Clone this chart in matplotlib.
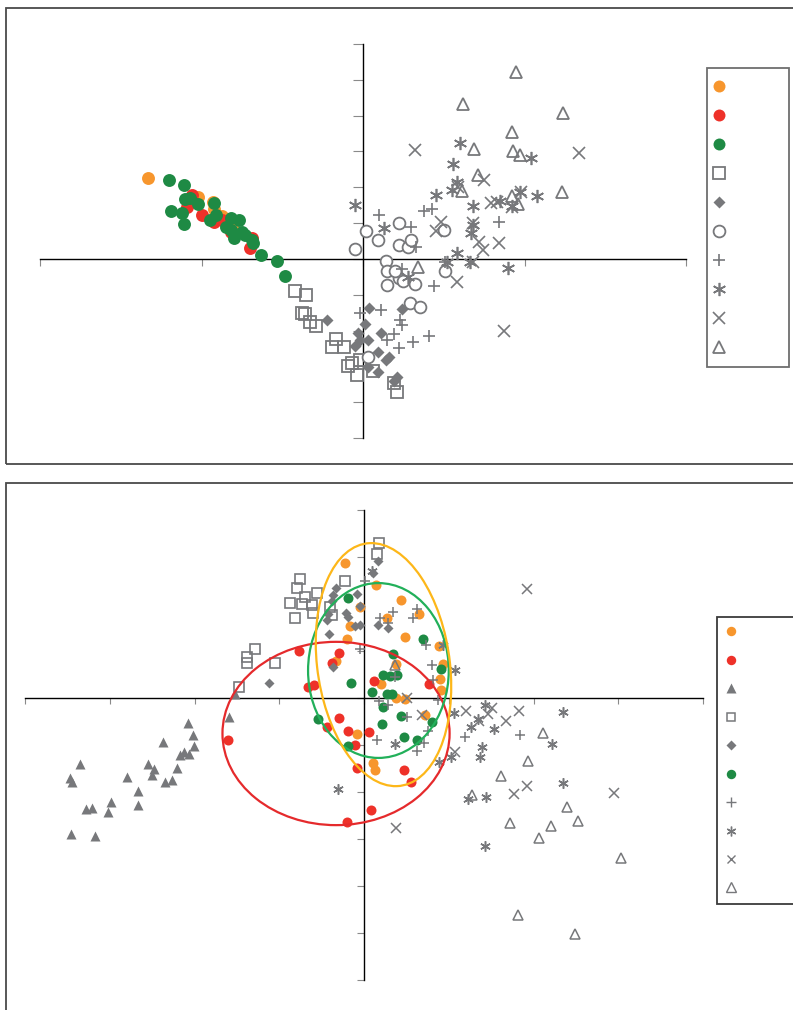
import matplotlib
matplotlib.use("Agg")
import matplotlib.pyplot as plt
from matplotlib.patches import Ellipse, Rectangle
from matplotlib.lines import Line2D

# ---------------- colours ----------------
ORANGE = "#F7962D"
RED = "#EE3129"
GREEN = "#1E8A44"
GRAY = "#77787B"

# ---------------- top panel data ----------------
top_orange_x = [-1.33, -1.02, -0.93, -0.92, -0.87, -0.81]
top_orange_y = [2.26, 1.73, 1.59, 1.40, 1.20, 0.87]
top_red_x = [-1.06, -1.09, -1.00, -0.92, -0.87, -0.70, -0.69, -0.82]
top_red_y = [1.79, 1.45, 1.23, 1.03, 1.09, 0.31, 0.59, 0.75]
top_green_x = [-1.20, -1.11, -1.10, -1.07, -1.02, -1.19, -1.12, -1.11, -0.92, -0.91, -0.95, -0.82,
               -0.77, -0.85, -0.82, -0.80, -0.75, -0.73, -0.69, -0.68, -0.63, -0.53, -0.48]
top_green_y = [2.21, 2.07, 1.68, 1.70, 1.54, 1.34, 1.28, 0.98, 1.56, 1.23, 1.09, 1.15,
               1.09, 0.89, 0.81, 0.59, 0.75, 0.67, 0.53, 0.45, 0.11, -0.06, -0.47]
top_square_x = [-0.42, -0.35, -0.38, -0.36, -0.33, -0.29, -0.17, -0.19, -0.12, -0.09, -0.04, -0.02,
                0.06, 0.19, 0.21, -0.07]
top_square_y = [-0.89, -1.01, -1.51, -1.54, -1.76, -1.87, -2.23, -2.46, -2.46, -2.99, -3.24, -2.82,
                -3.13, -3.46, -3.72, -2.91]
top_diamond_x = [-0.22, 0.04, 0.24, 0.01, -0.03, 0.11, 0.03, -0.05, 0.09, 0.14, 0.16, 0.03, 0.09,
                 0.19, 0.21, -0.02]
top_diamond_y = [-1.70, -1.37, -1.40, -1.82, -2.07, -2.07, -2.26, -2.43, -2.60, -2.82, -2.74, -3.02,
                 -3.16, -3.41, -3.30, -2.26]
top_circle_x = [-0.05, 0.02, 0.09, 0.22, 0.22, 0.28, 0.30, 0.14, 0.15, 0.22, 0.25, 0.15, 0.32, 0.29,
                0.35, 0.50, 0.51, 0.03, 0.20]
top_circle_y = [0.28, 0.78, 0.53, 1.01, 0.39, 0.34, 0.53, -0.06, -0.34, -0.53, -0.61, -0.73, -0.70,
                -1.23, -1.34, 0.81, -0.34, -2.74, -0.34]
top_plus_x = [0.10, 0.30, 0.33, 0.38, 0.43, 0.84, 0.24, 0.44, -0.02, 0.11, 0.23, 0.24, 0.19, 0.15,
              0.22, 0.31, 0.41, 0.51]
top_plus_y = [1.23, 0.89, 0.34, 1.34, 1.40, 1.03, -0.28, -0.75, -1.51, -1.42, -1.70, -1.84, -2.09,
              -2.26, -2.49, -2.32, -2.15, -0.08]
top_star_x = [-0.05, 0.13, 0.45, 0.56, 0.60, 0.58, 0.55, 0.68, 0.85, 0.92, 1.08, 1.04, 0.97, 0.68,
              0.67, 0.58, 0.52, 0.66, 0.90, 0.28]
top_star_y = [1.51, 0.87, 1.79, 2.65, 3.24, 2.15, 1.93, 1.48, 1.62, 1.48, 1.76, 2.82, 1.87, 0.95,
              0.73, 0.17, -0.08, -0.08, -0.25, -0.50]
top_x_x = [0.32, 0.75, 1.34, 0.79, 0.83, 0.98, 0.92, 0.45, 0.48, 0.68, 0.72, 0.74, 0.84, 0.58, 0.87,
           0.59, 0.68]
top_x_y = [3.04, 2.21, 2.96, 1.56, 1.59, 1.87, 1.45, 0.78, 1.03, 1.01, 0.47, 0.25, 0.45, -0.64, -2.01,
           2.01, -0.08]
top_tri_x = [0.95, 0.62, 1.24, 0.92, 0.69, 0.93, 0.97, 0.71, 0.61, 1.23, 0.92, 0.96, 0.34]
top_tri_y = [5.22, 4.33, 4.08, 3.55, 3.07, 3.02, 2.91, 2.35, 1.90, 1.87, 1.76, 1.54, -0.22]

top_xticks = [-2, -1, 0, 1, 2]
top_yticks = [-5, -4, -3, -2, -1, 0, 1, 2, 3, 4, 5, 6]

# ---------------- bottom panel data ----------------
bot_orange_x = [-0.22, 0.14, 0.44, -0.05, 0.27, 0.65, -0.17, 0.48, -0.20, 0.88, 0.93, 0.90, 0.91,
                -0.33, 0.38, 0.20, 0.38, 0.48, 0.72, -0.08, 0.11, 0.13]
bot_orange_y = [2.87, 2.40, 2.09, 1.94, 1.70, 1.79, 1.53, 1.30, 1.26, 1.11, 0.72, 0.40, 0.17,
                0.79, 0.72, 0.30, 0.00, -0.02, -0.36, -0.77, -1.38, -1.53]
bot_red_x = [-0.77, -0.30, -0.38, -0.66, -0.59, 0.12, 0.77, -0.30, -0.44, -0.19, -0.11, 0.06, -0.08,
             0.47, 0.55, 0.08, -0.20, -1.60]
bot_red_y = [1.00, 0.96, 0.74, 0.23, 0.28, 0.36, 0.30, -0.43, -0.62, -0.70, -1.00, -0.72, -1.49,
             -1.53, -1.79, -2.38, -2.64, -0.89]
bot_ftri_x = [-3.35, -3.47, -3.45, -3.46, -3.17, -3.28, -3.21, -3.02, -2.99, -2.80, -2.67, -2.67,
              -2.55, -2.48, -2.50, -2.37, -2.35, -2.27, -2.21, -2.17, -2.12, -2.06, -2.08, -2.02,
              -2.01, -1.59, -1.52]
bot_ftri_y = [-1.40, -1.70, -1.79, -2.89, -2.94, -2.36, -2.34, -2.43, -2.21, -1.68, -1.98, -2.28,
              -1.40, -1.51, -1.64, -0.94, -1.79, -1.74, -1.49, -1.21, -1.15, -1.19, -0.53, -0.79,
              -1.02, -0.40, 0.09]
bot_square_x = [0.18, 0.15, -0.76, -0.79, -0.87, -0.73, -0.61, -0.55, -0.70, -0.60, -0.81, -0.22,
                -0.40, -0.38, -1.29, -1.38, -1.38, -1.05, -1.47]
bot_square_y = [3.30, 3.06, 2.53, 2.34, 2.02, 2.00, 1.98, 2.23, 2.15, 1.81, 1.70, 2.49,
                1.94, 1.77, 1.04, 0.87, 0.74, 0.74, 0.23]
bot_diamond_x = [0.17, 0.11, -0.33, -0.37, -0.38, -0.08, -0.05, -0.21, -0.19, -0.42, -0.44, -0.11,
                 -0.05, -0.41, 0.17, 0.28, -0.37, -1.12]
bot_diamond_y = [2.91, 2.66, 2.34, 2.19, 2.06, 2.21, 1.96, 1.81, 1.72, 1.79, 1.66, 1.53,
                 1.55, 1.36, 1.55, 1.49, 0.66, 0.32]
bot_green_x = [-0.19, 0.70, 0.34, 0.91, -0.15, 0.22, 0.31, 0.39, 0.09, 0.27, 0.33, 0.22, 0.44, 0.80,
               0.21, 0.47, 0.63, -0.54, -0.19]
bot_green_y = [2.13, 1.26, 0.94, 0.62, 0.32, 0.49, 0.47, 0.49, 0.13, 0.09, 0.09, -0.19, -0.38, -0.51,
               -0.55, -0.83, -0.89, -0.45, -1.02]
bot_plus_x = [0.01, 0.34, 0.19, 0.28, 0.58, 0.63, 0.73, 0.80, 0.81, 0.37, -0.05, 0.18, 0.28, 0.51,
              0.15, 0.71, 0.76, 0.63, 0.87, 1.19, 1.84]
bot_plus_y = [2.49, 1.83, 1.70, 1.60, 1.70, 1.89, 1.13, 0.70, 0.38, 0.45, 1.04, -0.06, -0.15, -0.40,
              -0.89, -0.96, -0.70, -1.13, -0.04, -0.83, -0.79]
bot_star_x = [0.09, 0.93, 1.07, 0.37, -0.31, 1.06, 1.43, 1.35, 1.26, 1.53, 2.35, 2.22, 1.39, 1.37,
              1.03, 0.88, 2.35, 1.23, 1.44, 1.43]
bot_star_y = [2.70, 1.13, 0.60, -0.98, -1.94, -0.32, -0.15, -0.45, -0.62, -0.66, -0.30, -0.98, -1.04,
              -1.26, -1.26, -1.36, -1.81, -2.15, -2.11, -3.15]
bot_x_x = [1.92, 0.51, 0.68, 1.20, 1.51, 1.46, 1.36, 1.68, 1.83, 1.07, 1.92, 1.77, 2.95, 0.38]
bot_x_y = [2.32, 0.00, -0.36, -0.28, -0.21, -0.34, -0.49, -0.49, -0.28, -1.15, -1.87, -2.04, -2.02, -2.77]
bot_otri_x = [2.11, 1.94, 1.62, 1.27, 2.40, 2.53, 2.21, 1.72, 2.06, 3.03, 1.82, 2.49, 0.37]
bot_otri_y = [-0.74, -1.34, -1.66, -2.06, -2.32, -2.62, -2.72, -2.66, -2.98, -3.40, -4.62, -5.02, 0.70]

bot_xticks = [-4, -3, -2, -1, 0, 1, 2, 3, 4]
bot_yticks = [-6, -5, -4, -3, -2, -1, 0, 1, 2, 3, 4]

# ellipses: (center x, center y, width, height, angle, colour)
ell_red = (-0.33, -0.755, 2.68, 3.90, 0.0, "#E52A2C")
ell_green = (0.17, 0.585, 1.66, 3.72, 0.0, "#22B05A")
ell_orange = (0.23, 0.71, 1.57, 5.18, 3.5, "#FDB719")

# ---------------- figure ----------------
W, H = 793, 1010
fig = plt.figure(figsize=(W / 100, H / 100), dpi=100)
fig.patch.set_facecolor("white")

# panel frames
fig.patches.append(Rectangle((5.5 / W, 1 - 464 / H), 1.2, (464 - 8) / H, transform=fig.transFigure,
                             fill=False, edgecolor="#4A4A4A", linewidth=1.3, zorder=0))
fig.patches.append(Rectangle((5.5 / W, -0.2), 1.2, 0.2 + 1 - 483 / H, transform=fig.transFigure,
                             fill=False, edgecolor="#4A4A4A", linewidth=1.3, zorder=0))


def style_axes(ax, xticks, yticks, xl, yl, tlx, tly):
    ax.set_xlim(*xl)
    ax.set_ylim(*yl)
    for s in ("top", "right"):
        ax.spines[s].set_visible(False)
    ax.spines["left"].set_position(("data", 0))
    ax.spines["bottom"].set_position(("data", 0))
    for s in ("left", "bottom"):
        ax.spines[s].set_linewidth(1.0)
        ax.spines[s].set_color("black")
    ax.set_xticks(xticks)
    ax.set_yticks(yticks)
    ax.set_xticklabels([])
    ax.set_yticklabels([])
    ax.tick_params(axis="x", direction="out", length=tlx, width=0.8, color="#8A8A8A")
    ax.tick_params(axis="y", direction="out", length=tly, width=0.8, color="#8A8A8A")
    ax.patch.set_alpha(0)


# ---------- top axes ----------
ax1 = fig.add_axes([40 / W, 1 - 438 / H, 646 / W, 394 / H])
style_axes(ax1, top_xticks, top_yticks, (-2, 2), (-5, 6), 5, 7)

ms_big = 9.3
ax1.plot(top_orange_x, top_orange_y, "o", ms=ms_big, mfc=ORANGE, mec="none", zorder=3)
ax1.plot(top_red_x, top_red_y, "o", ms=ms_big, mfc=RED, mec="none", zorder=3)
ax1.plot(top_green_x, top_green_y, "o", ms=ms_big, mfc=GREEN, mec="none", zorder=3)
ax1.plot(top_square_x, top_square_y, "s", ms=8.2, mfc="none", mec=GRAY, mew=1.3, zorder=3)
ax1.plot(top_diamond_x, top_diamond_y, "D", ms=6.6, mfc=GRAY, mec="none", zorder=3)
ax1.plot(top_circle_x, top_circle_y, "o", ms=8.5, mfc="white", mec=GRAY, mew=1.3, zorder=3)
ax1.plot(top_plus_x, top_plus_y, "+", ms=8.5, mec=GRAY, mew=1.2, zorder=3)
ax1.plot(top_star_x, top_star_y, marker=(6, 2, 0), ls="none", ms=9.5, mec=GRAY, mew=1.2, zorder=3)
ax1.plot(top_x_x, top_x_y, "x", ms=8, mec=GRAY, mew=1.2, zorder=3)
ax1.plot(top_tri_x, top_tri_y, "^", ms=9, mfc="none", mec=GRAY, mew=1.3, zorder=3)

top_handles = [
    Line2D([], [], ls="none", marker="o", ms=8.6, mfc=ORANGE, mec="none"),
    Line2D([], [], ls="none", marker="o", ms=8.6, mfc=RED, mec="none"),
    Line2D([], [], ls="none", marker="o", ms=8.6, mfc=GREEN, mec="none"),
    Line2D([], [], ls="none", marker="s", ms=8.0, mfc="none", mec=GRAY, mew=1.3),
    Line2D([], [], ls="none", marker="D", ms=6.4, mfc=GRAY, mec="none"),
    Line2D([], [], ls="none", marker="o", ms=8.5, mfc="white", mec=GRAY, mew=1.3),
    Line2D([], [], ls="none", marker="+", ms=8.5, mec=GRAY, mew=1.2),
    Line2D([], [], ls="none", marker=(6, 2, 0), ms=9.5, mec=GRAY, mew=1.2),
    Line2D([], [], ls="none", marker="x", ms=8, mec=GRAY, mew=1.2),
    Line2D([], [], ls="none", marker="^", ms=9, mfc="none", mec=GRAY, mew=1.3),
]
leg1 = fig.legend(top_handles, [" "] * 10, loc="upper left",
                  bbox_to_anchor=(707 / W, 1 - 68 / H, 82 / W, 0.0), mode="expand",
                  borderaxespad=0, fontsize=10, labelspacing=1.08, borderpad=0.85,
                  handlelength=0.02, handletextpad=0.5, fancybox=False, framealpha=1)
leg1.get_frame().set_edgecolor("#6E6E6E")
leg1.get_frame().set_linewidth(1.3)

# ---------- bottom axes ----------
ax2 = fig.add_axes([25 / W, 1 - 980 / H, 678 / W, 470 / H])
style_axes(ax2, bot_xticks, bot_yticks, (-4, 4), (-6, 4), 4.5, 5)

ms_s = 7.2
ax2.plot(bot_orange_x, bot_orange_y, "o", ms=ms_s, mfc=ORANGE, mec="none", zorder=3)
ax2.plot(bot_red_x, bot_red_y, "o", ms=ms_s, mfc=RED, mec="none", zorder=3)
ax2.plot(bot_ftri_x, bot_ftri_y, "^", ms=7.5, mfc=GRAY, mec="none", zorder=3)
ax2.plot(bot_square_x, bot_square_y, "s", ms=6.6, mfc="none", mec=GRAY, mew=1.2, zorder=3)
ax2.plot(bot_diamond_x, bot_diamond_y, "D", ms=5.3, mfc=GRAY, mec="none", zorder=3)
ax2.plot(bot_green_x, bot_green_y, "o", ms=ms_s, mfc=GREEN, mec="none", zorder=3)
ax2.plot(bot_plus_x, bot_plus_y, "+", ms=7, mec=GRAY, mew=1.1, zorder=3)
ax2.plot(bot_star_x, bot_star_y, marker=(6, 2, 0), ls="none", ms=7.5, mec=GRAY, mew=1.1, zorder=3)
ax2.plot(bot_x_x, bot_x_y, "x", ms=6.5, mec=GRAY, mew=1.1, zorder=3)
ax2.plot(bot_otri_x, bot_otri_y, "^", ms=7, mfc="none", mec=GRAY, mew=1.1, zorder=3)

for cx, cy, w, h, ang, col in (ell_red, ell_green, ell_orange):
    ax2.add_patch(Ellipse((cx, cy), w, h, angle=ang, fill=False, edgecolor=col, linewidth=1.6, zorder=4))

bot_handles = [
    Line2D([], [], ls="none", marker="o", ms=6.8, mfc=ORANGE, mec="none"),
    Line2D([], [], ls="none", marker="o", ms=6.8, mfc=RED, mec="none"),
    Line2D([], [], ls="none", marker="^", ms=7.0, mfc=GRAY, mec="none"),
    Line2D([], [], ls="none", marker="s", ms=6.2, mfc="none", mec=GRAY, mew=1.1),
    Line2D([], [], ls="none", marker="D", ms=5.0, mfc=GRAY, mec="none"),
    Line2D([], [], ls="none", marker="o", ms=6.8, mfc=GREEN, mec="none"),
    Line2D([], [], ls="none", marker="+", ms=6.5, mec=GRAY, mew=1.0),
    Line2D([], [], ls="none", marker=(6, 2, 0), ms=7, mec=GRAY, mew=1.0),
    Line2D([], [], ls="none", marker="x", ms=6, mec=GRAY, mew=1.0),
    Line2D([], [], ls="none", marker="^", ms=6.5, mfc="none", mec=GRAY, mew=1.0),
]
leg2 = fig.legend(bot_handles, [" "] * 10, loc="upper left",
                  bbox_to_anchor=(717 / W, 1 - 617 / H, 100 / W, 0.0), mode="expand",
                  borderaxespad=0, fontsize=10, labelspacing=1.04, borderpad=0.6,
                  handlelength=0.8, handletextpad=0.5, fancybox=False, framealpha=1)
leg2.get_frame().set_edgecolor("#3A3A3A")
leg2.get_frame().set_linewidth(1.3)

fig.savefig("out.png", dpi=100, facecolor="white")
